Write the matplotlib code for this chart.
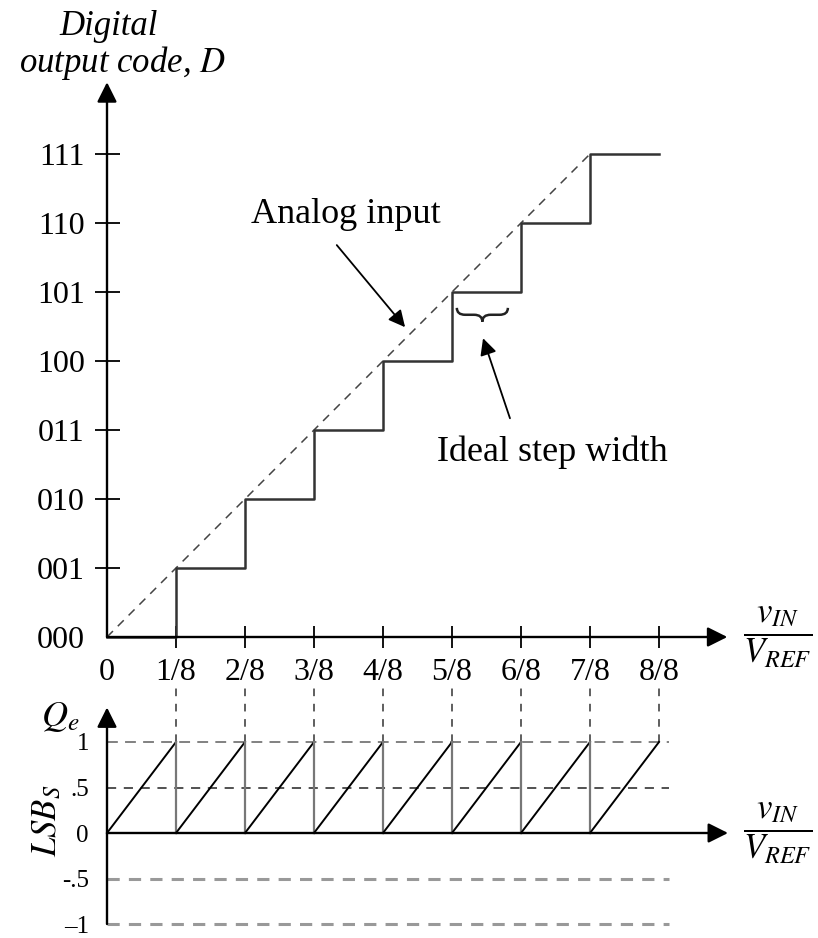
import matplotlib.pyplot as plt
from matplotlib.path import Path
from matplotlib.patches import PathPatch
import numpy as np

plt.rcParams["font.family"] = ["Liberation Serif", "DejaVu Serif"]
plt.rcParams["mathtext.fontset"] = "stix"

# ---- data ----
x_ticks = [0, 1, 2, 3, 4, 5, 6, 7, 8]
x_labels = ["0", "1/8", "2/8", "3/8", "4/8", "5/8", "6/8", "7/8", "8/8"]
codes = [0, 1, 2, 3, 4, 5, 6, 7]
code_labels = ["000", "001", "010", "011", "100", "101", "110", "111"]
qe_ticks = [1, 0.5, 0, -0.5, -1]
qe_labels = ["1", ".5", "0", "-.5", "\u20131"]

# staircase: code k is output from k/8 up to (k+1)/8
stair_x = x_ticks
stair_y = codes + [codes[-1]]

# ---- layout (pixels of the 818x938 picture) ----
W, H = 818, 938
X0, DX = 107, 69          # origin / px per 1/8
Y0T, DYT = 637, 69        # top plot origin / px per code
Y0B, DYB = 833, 91        # bottom plot origin / px per LSB

fig = plt.figure(figsize=(W / 100, H / 100), dpi=100)
ax = fig.add_axes([0, 0, 1, 1])
axb = fig.add_axes([0, 0, 1, 1])
for a in (ax, axb):
    a.set_facecolor("none")
    a.set_xlim(-X0 / DX, (W - X0) / DX)
    for s in a.spines.values():
        s.set_visible(False)
ax.set_ylim((Y0T - H) / DYT, Y0T / DYT)
axb.set_ylim((Y0B - H) / DYB, Y0B / DYB)

arrow_kw = dict(arrowstyle="-|>", lw=1.7, color="black", mutation_scale=30,
                shrinkA=0, shrinkB=0)

# ---------------- top plot ----------------
ax.spines["left"].set_position(("data", 0))
ax.spines["bottom"].set_position(("data", 0))
ax.set_xticks(x_ticks, x_labels)
ax.set_yticks(codes, code_labels)
ax.tick_params(axis="x", direction="inout", length=16, width=1.3, pad=7,
               labelsize=23)
ax.tick_params(axis="y", direction="inout", length=18, width=1.3, pad=7,
               labelsize=23)
ax.xaxis.get_major_ticks()[0].tick1line.set_visible(False)
ax.yaxis.get_major_ticks()[0].tick1line.set_visible(False)

ax.annotate("", xy=(8.99, 0), xytext=(0, 0), arrowprops=arrow_kw)
ax.annotate("", xy=(0, 8.04), xytext=(0, 0), arrowprops=arrow_kw)

# ideal analog line
ax.plot([0, codes[-1]], [0, codes[-1]], color="#444444", lw=1.1,
        dashes=(5.5, 4.5))
# quantized staircase
ax.step(stair_x, stair_y, where="post", color="#333333", lw=1.8)

ax.text(0.03, 8.72, "Digital", fontsize=25, style="italic", ha="center",
        va="baseline")
ax.text(0.23, 8.19, "output code, $D$", fontsize=25, style="italic",
        ha="center", va="baseline")
ax.text(9.72, 0, r"$\dfrac{v_{IN}}{V_{REF}}$", fontsize=25, ha="center",
        va="center")

ax.text(3.46, 6.13, "Analog input", fontsize=26, ha="center", va="center")
ax.annotate("", xy=(4.32, 4.49), xytext=(3.33, 5.68),
            arrowprops=dict(arrowstyle="-|>", lw=1.3, color="black",
                            mutation_scale=25, shrinkA=0, shrinkB=0))
ax.text(6.45, 2.68, "Ideal step width", fontsize=26, ha="center",
        va="center")
ax.annotate("", xy=(5.45, 4.33), xytext=(5.84, 3.17),
            arrowprops=dict(arrowstyle="-|>", lw=1.3, color="black",
                            mutation_scale=25, shrinkA=0, shrinkB=0))

# brace under the 101 step
bx0, bx1, by, bh, br = 5.07, 5.81, 4.77, 0.2, 0.12
bm = (bx0 + bx1) / 2
verts = [(bx0, by), (bx0, by - bh / 2), (bx0 + br, by - bh / 2),
         (bm - br, by - bh / 2), (bm, by - bh / 2), (bm, by - bh),
         (bx1, by), (bx1, by - bh / 2), (bx1 - br, by - bh / 2),
         (bm + br, by - bh / 2), (bm, by - bh / 2), (bm, by - bh)]
pcodes = [Path.MOVETO, Path.CURVE3, Path.CURVE3, Path.LINETO, Path.CURVE3,
          Path.CURVE3] * 2
ax.add_patch(PathPatch(Path(verts, pcodes), fill=False, lw=1.8,
                       color="#222222"))

# ---------------- bottom plot ----------------
axb.spines["left"].set_position(("data", 0))
axb.set_xticks([])
axb.set_yticks(qe_ticks, qe_labels)
axb.tick_params(axis="y", length=0, pad=13, labelsize=18)

axb.annotate("", xy=(9.0, 0), xytext=(0, 0), arrowprops=arrow_kw)
axb.annotate("", xy=(0, 1.38), xytext=(0, -1), arrowprops=arrow_kw)

# reference levels
axb.plot([0, 8.15], [1, 1], color="#777777", lw=1.3, dashes=(6, 4))
axb.plot([0, 8.15], [0.5, 0.5], color="#222222", lw=1.1, dashes=(6, 5))
for q in (-0.5, -1):
    axb.plot([0, 8.15], [q, q], color="#999999", lw=2.2, dashes=(4, 3))

# connectors from top axis ticks down to Qe = 1
for k in x_ticks[1:]:
    axb.plot([k, k], [1, 1.6], color="#333333", lw=1.1, dashes=(5, 5))

# quantization error sawtooth
for k in codes:
    axb.plot([k, k + 1], [0, 1], color="black", lw=1.4)
    if k + 1 < len(codes):
        axb.plot([k + 1, k + 1], [1, 0], color="#777777", lw=1.6)

axb.text(-0.68, 1.27, "$Q_e$", fontsize=26, ha="center", va="center")
axb.text(-0.86, 0.14, "$LSB_S$", fontsize=25, ha="center", va="center",
         rotation=90)
axb.text(9.72, 0, r"$\dfrac{v_{IN}}{V_{REF}}$", fontsize=25, ha="center",
         va="center")

fig.savefig("out.png", dpi=100)
